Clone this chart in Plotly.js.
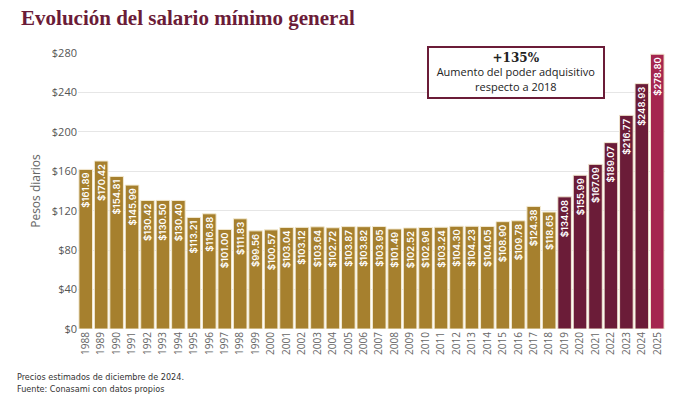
<!DOCTYPE html>
<html>
<head>
<meta charset="utf-8">
<script src="https://cdn.plot.ly/plotly-3.0.1.min.js"></script>
<style>
  html, body { margin: 0; padding: 0; background: #fff; }
  #chart { width: 680px; height: 402px; }
</style>
</head>
<body>
<div id="chart"></div>
<script>
// salario minimo diario, pesos constantes (dic 2024)
const years = [1988, 1989, 1990, 1991, 1992, 1993, 1994, 1995, 1996, 1997,
  1998, 1999, 2000, 2001, 2002, 2003, 2004, 2005, 2006, 2007,
  2008, 2009, 2010, 2011, 2012, 2013, 2014, 2015, 2016, 2017,
  2018, 2019, 2020, 2021, 2022, 2023, 2024, 2025];
const salario = [161.89, 170.42, 154.81, 145.99, 130.42, 130.50, 130.40, 113.21, 116.88, 101.00,
  111.83, 99.56, 100.57, 103.04, 103.12, 103.64, 102.72, 103.87, 103.82, 103.95,
  101.49, 102.52, 102.96, 103.24, 104.30, 104.23, 104.05, 108.90, 109.78, 124.38,
  118.65, 134.08, 155.99, 167.09, 189.07, 216.77, 248.93, 278.80];
const yTicks = [0, 40, 80, 120, 160, 200, 240, 280];

const gold = '#A6802E';
const maroon = '#6B1C38';
const crimson = '#A5264F';

const colors = years.map(y => y <= 2018 ? gold : (y === 2025 ? crimson : maroon));
const labels = salario.map(v => '$' + v.toFixed(2));

const trace = {
  x: years.map(String),
  y: salario,
  type: 'bar',
  marker: { color: colors, line: { color: '#f3ead2', width: 1 } },
  text: labels,
  textposition: 'inside',
  insidetextanchor: 'end',
  textangle: -90,
  textfont: { family: 'Inter, Open Sans, sans-serif', size: 9.5, color: '#ffffff', weight: 600 },
  constraintext: 'none',
  hoverinfo: 'x+y'
};

const layout = {
  width: 680,
  height: 402,
  margin: { l: 78, r: 15, t: 53, b: 73 },
  paper_bgcolor: '#ffffff',
  plot_bgcolor: '#ffffff',
  bargap: 0.12,
  showlegend: false,
  font: { family: 'Open Sans, sans-serif', color: '#555' },
  title: {
    text: 'Evolución del salario mínimo general',
    font: { family: 'Liberation Serif, serif', size: 21, color: '#6B1C38', weight: 'bold' },
    x: 0.031, xanchor: 'left', xref: 'container',
    y: 0.957, yanchor: 'middle'
  },
  xaxis: {
    type: 'category',
    tickangle: -90,
    tickfont: { size: 10, color: '#666' },
    showgrid: false,
    showline: false,
    ticks: '',
    ticklen: 0
  },
  yaxis: {
    range: [0, 280],
    tickvals: yTicks,
    ticktext: yTicks.map(v => '$' + v),
    tickfont: { size: 11, color: '#555' },
    gridcolor: '#e6e6e6',
    zeroline: false,
    showline: false,
    ticks: '',
    title: {
      text: 'Pesos diarios',
      font: { size: 12, color: '#666' },
      standoff: 8
    }
  },
  annotations: [
    {
      xref: 'paper', yref: 'paper',
      x: 0.746, y: 0.928,
      xanchor: 'center', yanchor: 'middle',
      text: '<span style="font-family:DejaVu Serif, serif;font-weight:bold;font-size:12px">+135%</span><br>Aumento del poder adquisitivo<br>respecto a 2018',
      showarrow: false,
      align: 'center',
      font: { family: 'Open Sans, sans-serif', size: 11, color: '#222' },
      bgcolor: '#ffffff',
      bordercolor: '#6B1C38',
      borderwidth: 2,
      borderpad: 3,
      width: 168
    },
    {
      xref: 'paper', yref: 'paper',
      x: -0.107, y: -0.15,
      xanchor: 'left', yanchor: 'top',
      text: 'Precios estimados de diciembre de 2024.<br>Fuente: Conasami con datos propios',
      showarrow: false,
      align: 'left',
      font: { family: 'DejaVu Sans Condensed, Roboto, sans-serif', size: 9, color: '#333' }
    }
  ]
};

Plotly.newPlot('chart', [trace], layout, { displayModeBar: false, staticPlot: true });
</script>
</body>
</html>
